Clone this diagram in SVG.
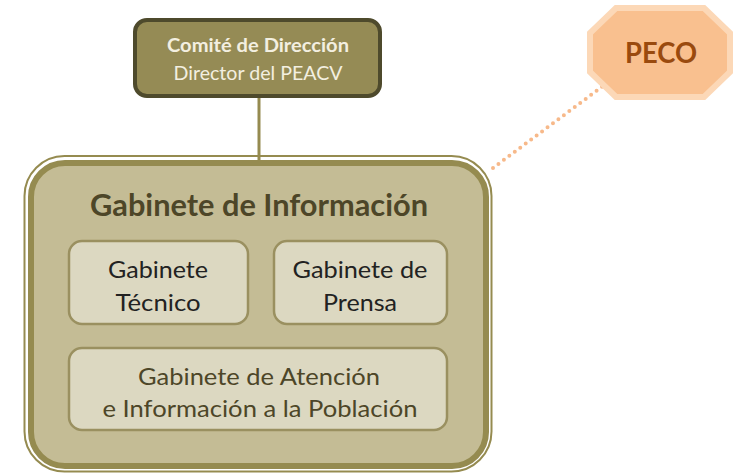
<svg xmlns="http://www.w3.org/2000/svg" width="745" height="474" viewBox="0 0 745 474">
<style>
text{font-family:Lato,"Open Sans","Liberation Sans",sans-serif;text-anchor:middle}
.top{fill:#f3efe0;font-size:19px}
.inner{fill:#dcd8c1;stroke:#9a9060;stroke-width:2.5}
.lbl{fill:#222;font-size:23px}
.lbl2{fill:#4d4628;font-size:23px}
</style>
<rect width="745" height="474" fill="#fff"/>
<g id="connectors">
<line x1="259" y1="96" x2="259" y2="162" stroke="#958b50" stroke-width="3"/>
<line x1="493" y1="168" x2="603" y2="86" stroke="#f7b98a" stroke-width="4" stroke-linecap="round" stroke-dasharray="0 6.8"/>
</g>
<g id="comite">
<rect x="135" y="20" width="245" height="76" rx="12" fill="#958b55" stroke="#4e4a2c" stroke-width="4"/>
<text class="top" x="258" y="52" font-weight="bold" textLength="182" lengthAdjust="spacingAndGlyphs">Comité de Dirección</text>
<text class="top" x="258" y="80" textLength="169" lengthAdjust="spacingAndGlyphs">Director del PEACV</text>
</g>
<g id="peco">
<polygon points="616,8 704,8 730,33 730,72 704,97 616,97 590,72 590,33" fill="#f9c08f" stroke="#fcd8b7" stroke-width="6" stroke-linejoin="miter"/>
<text x="661" y="63" font-size="28" font-weight="bold" fill="#9a4a0e" textLength="72" lengthAdjust="spacingAndGlyphs">PECO</text>
</g>
<g id="gabinete-informacion">
<rect x="24.5" y="156" width="467" height="315.5" rx="40" fill="none" stroke="#958b50" stroke-width="2"/>
<rect x="31" y="163" width="455" height="303" rx="34" fill="#c4bc95" stroke="#958b50" stroke-width="6"/>
<text x="259" y="216" font-size="30" font-weight="bold" fill="#4d4628" textLength="338" lengthAdjust="spacingAndGlyphs">Gabinete de Información</text>
</g>
<g id="tecnico">
<rect class="inner" x="69" y="241" width="179" height="83" rx="13"/>
<text class="lbl" x="158" y="278" textLength="100" lengthAdjust="spacingAndGlyphs">Gabinete</text>
<text class="lbl" x="158" y="311" textLength="85" lengthAdjust="spacingAndGlyphs">Técnico</text>
</g>
<g id="prensa">
<rect class="inner" x="274" y="241" width="173" height="83" rx="13"/>
<text class="lbl" x="360" y="278" textLength="135" lengthAdjust="spacingAndGlyphs">Gabinete de</text>
<text class="lbl" x="360" y="311" textLength="74" lengthAdjust="spacingAndGlyphs">Prensa</text>
</g>
<g id="atencion">
<rect class="inner" x="69" y="348" width="378" height="82" rx="13"/>
<text class="lbl2" x="259" y="385" textLength="242" lengthAdjust="spacingAndGlyphs">Gabinete de Atención</text>
<text class="lbl2" x="260" y="417" textLength="315" lengthAdjust="spacingAndGlyphs">e Información a la Población</text>
</g>
</svg>
